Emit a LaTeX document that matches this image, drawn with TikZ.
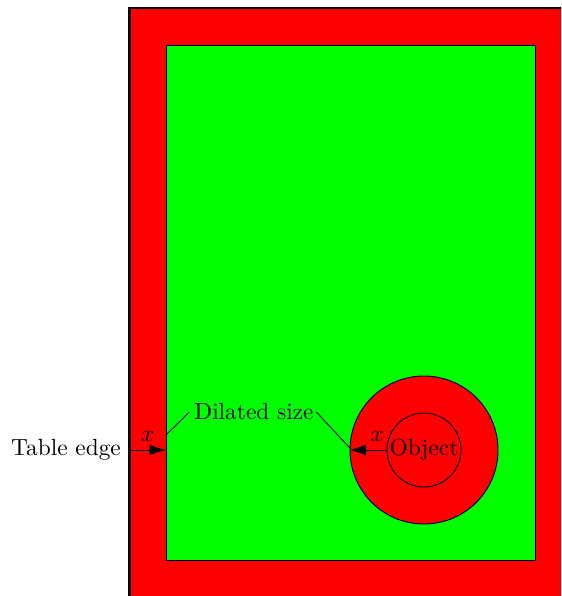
\documentclass[tikz,border=0pt]{standalone}
\usetikzlibrary{arrows.meta}
\begin{document}
\begin{tikzpicture}[x=0.428pt,y=-0.428pt,
  dim/.style={draw, line width=0.4pt, -{Latex[length=7pt,width=4.6pt]}},
  leader/.style={draw, line width=0.4pt}]
\useasboundingbox (0,0) rectangle (561,596);
\clip (0,0) rectangle (561,596);
% table and its usable area
\draw[fill=red, line width=1.2pt] (129.5,8) rectangle (575,600);
\draw[fill=green, line width=0.4pt] (166,45) rectangle (535,560);
% object and its dilated footprint
\node[circle, draw, fill=red, line width=0.4pt, minimum size=148*0.428pt, inner sep=0pt] (dil) at (424,450) {};
\node[circle, draw, line width=0.4pt, minimum size=74*0.428pt, inner sep=0pt] (obj) at (424,450) {Object};
% dimension arrows
\coordinate (tedge) at (129.5,450);
\coordinate (dedge) at (166,450);
\node[anchor=east, inner sep=3.5pt] (te) at (tedge) {Table edge};
\draw[dim] (tedge) -- (dedge) node[midway, above, inner sep=3.5pt] {$x$};
\draw[dim] (obj.west) -- (dil.west) node[pos=0.25, above, inner sep=3.5pt] {$x$};
% label with leaders
\node[inner sep=1pt] (ds) at (254,412) {Dilated size};
\coordinate (dl) at (166,435);
\draw[leader] ([xshift=-1pt]ds.west) -- (dl);
\draw[leader] (ds.east) -- ([yshift=1pt]dil.west);
\end{tikzpicture}
\end{document}
